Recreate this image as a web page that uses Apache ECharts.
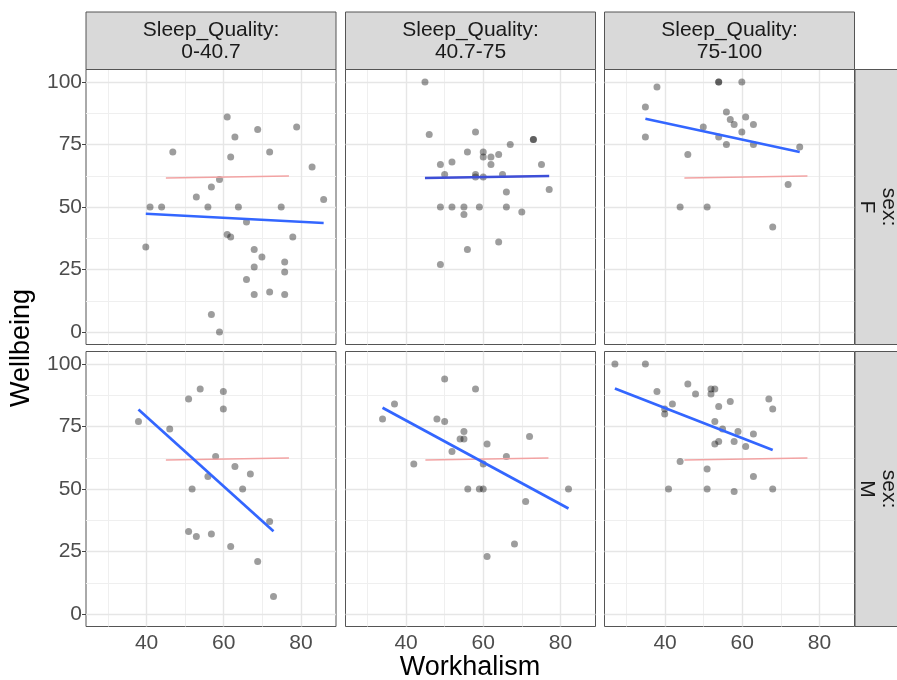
<!DOCTYPE html>
<html lang="en">
<head>
    <meta charset="utf-8" />
    <title>Wellbeing vs Workhalism</title>
    <script src="https://cdn.jsdelivr.net/npm/echarts@6/dist/echarts.min.js"></script>
    <style>
        html, body { margin: 0; padding: 0; background: #fff; }
        #main { width: 897px; height: 680px; }
    </style>
</head>
<body>
<div id="main"></div>
<script>
// facet labels
var sleepLabels = ['0-40.7', '40.7-75', '75-100'];
var sexLabels = ['F', 'M'];

// tick values
var xTicks = [40, 60, 80];
var xMinor = [30, 50, 70];
var yTicks = [0, 25, 50, 75, 100];
var yMinor = [12.5, 37.5, 62.5, 87.5];

// points [Workhalism, Wellbeing], one array per panel
var ptsF1 = [[60.9,86],[68.8,81],[78.9,82],[62.9,78],[46.8,72],[71.9,72],[61.8,70],[82.9,66],[58.9,61],[56.8,58],[52.9,54],[85.9,53],[40.9,50],[43.9,50],[55.9,50],[63.8,50],[74.9,50],[65.9,44],[60.9,39],[61.8,38],[77.9,38],[39.8,34],[67.9,33],[69.9,30],[75.8,28],[67.9,26],[75.8,24],[65.9,21],[67.9,15],[71.9,16],[75.8,15],[56.8,7],[58.9,0]];
var ptsF2 = [[44.9,100],[46.0,79],[58.0,80],[73.0,77],[73.0,77],[67.0,75],[55.9,72],[60.0,72],[60.0,70],[62.0,70],[64.0,71],[51.9,68],[48.9,67],[62.0,67],[75.1,67],[50.0,63],[58.0,63],[58.0,62],[60.0,62],[65.0,63],[66.0,56],[77.1,57],[48.9,50],[51.9,50],[55.0,50],[59.0,50],[66.0,50],[55.0,47],[70.0,48],[64.0,36],[55.9,33],[48.9,27]];
var ptsF3 = [[53.9,100],[53.9,100],[59.9,100],[37.9,98],[34.9,90],[55.9,88],[60.9,86],[56.9,85],[57.9,83],[62.9,83],[49.9,82],[59.9,80],[34.9,78],[53.9,78],[55.9,75],[62.9,75],[74.9,74],[45.9,71],[71.9,59],[43.9,50],[50.9,50],[67.9,42]];
var ptsM1 = [[53.9,90],[59.9,89],[50.9,86],[59.9,82],[37.9,77],[46.0,74],[57.9,63],[62.9,59],[66.9,56],[55.9,55],[51.8,50],[64.9,50],[71.9,37],[50.9,33],[52.9,31],[56.8,32],[61.8,27],[68.8,21],[72.9,7]];
var ptsM2 = [[50.0,94],[58.0,90],[37.0,84],[33.9,78],[48.0,78],[50.0,77],[55.0,73],[54.0,70],[55.0,70],[72.0,71],[61.0,68],[51.9,65],[66.0,63],[42.0,60],[60.0,60],[56.0,50],[59.0,50],[60.0,50],[82.1,50],[71.0,45],[68.1,28],[61.0,23]];
var ptsM3 = [[27.0,100],[34.9,100],[45.9,92],[37.9,89],[47.9,88],[51.9,90],[52.9,90],[51.9,88],[56.9,85],[66.9,86],[53.9,83],[67.9,82],[41.9,84],[39.9,82],[39.9,80],[52.9,77],[54.9,74],[58.9,73],[62.9,72],[57.9,69],[53.9,69],[52.9,68],[60.9,67],[43.9,61],[50.9,58],[62.9,55],[40.9,50],[50.9,50],[57.9,49],[67.9,50]];

// fitted line end points per panel
var fitF1 = [[39.8,47.3],[85.9,43.6]];
var fitF2 = [[44.9,61.6],[77.1,62.4]];
var fitF3 = [[34.9,85.3],[74.9,72.0]];
var fitM1 = [[37.9,81.8],[72.9,33.1]];
var fitM2 = [[33.9,82.5],[82.1,42.2]];
var fitM3 = [[27.0,90.2],[67.9,65.6]];

// reference line drawn in every panel
var refLine = [[45.0,61.6],[76.9,62.4]];

var panelPts = [ptsF1, ptsF2, ptsF3, ptsM1, ptsM2, ptsM3];
var panelFit = [fitF1, fitF2, fitF3, fitM1, fitM2, fitM3];

// layout
var panelLeft = [86, 345.5, 604.5];
var panelTop = [69.5, 351.5];
var panelW = 250;
var panelH = 275;
var font = 'Liberation Sans, Arial, sans-serif';

var grids = [], xAxes = [], yAxes = [], series = [], graphics = [];

var gridMarks = [];
xMinor.forEach(function(v) { gridMarks.push({xAxis: v, lineStyle: {color: '#efefef', width: 1}}); });
yMinor.forEach(function(v) { gridMarks.push({yAxis: v, lineStyle: {color: '#efefef', width: 1}}); });
xTicks.forEach(function(v) { gridMarks.push({xAxis: v, lineStyle: {color: '#e6e6e6', width: 1.4}}); });
yTicks.forEach(function(v) { gridMarks.push({yAxis: v, lineStyle: {color: '#e6e6e6', width: 1.4}}); });

for (var r = 0; r < 2; r++) {
    for (var c = 0; c < 3; c++) {
        var i = r * 3 + c;
        var bottomRow = r == 1;
        var leftCol = c == 0;
        grids.push({
            left: panelLeft[c], top: panelTop[r], width: panelW, height: panelH,
            show: true, backgroundColor: '#fff', borderColor: '#555', borderWidth: 1,
            containLabel: false, outerBoundsMode: 'none'
        });
        xAxes.push({
            type: 'value', gridIndex: i, min: 24.3, max: 89.1,
            axisLine: {show: false},
            splitLine: {show: false},
            axisTick: {show: bottomRow, customValues: xTicks, length: 4, lineStyle: {color: '#444', width: 1}},
            axisLabel: {show: bottomRow, customValues: xTicks, fontSize: 21, color: '#4d4d4d', fontFamily: font, margin: 6}
        });
        yAxes.push({
            type: 'value', gridIndex: i, min: -5, max: 105,
            axisLine: {show: false},
            splitLine: {show: false},
            axisTick: {show: leftCol, customValues: yTicks, length: 4, lineStyle: {color: '#444', width: 1}},
            axisLabel: {show: leftCol, customValues: yTicks, fontSize: 21, color: '#4d4d4d', fontFamily: font, margin: 4}
        });
        // grid lines (markLine defaults to z 5, keep it under the marks)
        series.push({
            type: 'scatter', xAxisIndex: i, yAxisIndex: i, data: [], silent: true, z: 1,
            markLine: {
                z: 1, silent: true, symbol: ['none', 'none'], label: {show: false}, animation: false,
                lineStyle: {type: 'solid'},
                data: gridMarks
            }
        });
        // points
        series.push({
            type: 'scatter', xAxisIndex: i, yAxisIndex: i, data: panelPts[i], z: 2,
            symbolSize: 7, itemStyle: {color: 'rgba(0,0,0,0.48)'}, silent: true
        });
        // reference line
        series.push({
            type: 'line', xAxisIndex: i, yAxisIndex: i, data: refLine, z: 3,
            symbol: 'none', lineStyle: {color: '#f2a3a3', width: 1.3}, silent: true
        });
        // fitted line
        series.push({
            type: 'line', xAxisIndex: i, yAxisIndex: i, data: panelFit[i], z: 4,
            symbol: 'none', lineStyle: {color: i == 1 ? '#3d4fd8' : '#3366ff', width: 2.7}, silent: true
        });
    }
}

// top strips
for (var c = 0; c < 3; c++) {
    graphics.push({
        type: 'rect', shape: {x: panelLeft[c], y: 12, width: panelW, height: 57.5},
        style: {fill: '#d9d9d9', stroke: '#555', lineWidth: 1}, z: 10
    });
    graphics.push({
        type: 'text', x: panelLeft[c] + panelW / 2, y: 41.5, z: 11,
        style: {text: 'Sleep_Quality:\n' + sleepLabels[c], fontSize: 21, lineHeight: 22, fill: '#1a1a1a',
            fontFamily: font, align: 'center', verticalAlign: 'middle'}
    });
}
// right strips
for (var r = 0; r < 2; r++) {
    graphics.push({
        type: 'rect', shape: {x: 855, y: panelTop[r], width: 60, height: panelH},
        style: {fill: '#d9d9d9', stroke: '#555', lineWidth: 1}, z: 10
    });
    graphics.push({
        type: 'text', x: 878, y: panelTop[r] + panelH / 2, rotation: -Math.PI / 2, z: 11,
        style: {text: 'sex:\n' + sexLabels[r], fontSize: 21, lineHeight: 22, fill: '#1a1a1a',
            fontFamily: font, align: 'center', verticalAlign: 'middle'}
    });
}
// axis titles
graphics.push({
    type: 'text', x: 470, y: 668, z: 11,
    style: {text: 'Workhalism', fontSize: 27, fill: '#000', fontFamily: font, align: 'center', verticalAlign: 'middle'}
});
graphics.push({
    type: 'text', x: 22, y: 348, rotation: Math.PI / 2, z: 11,
    style: {text: 'Wellbeing', fontSize: 27, fill: '#000', fontFamily: font, align: 'center', verticalAlign: 'middle'}
});

var myChart = echarts.init(document.getElementById('main'));
myChart.setOption({
    animation: false,
    backgroundColor: '#fff',
    grid: grids,
    xAxis: xAxes,
    yAxis: yAxes,
    series: series,
    graphic: graphics
});
</script>
</body>
</html>
